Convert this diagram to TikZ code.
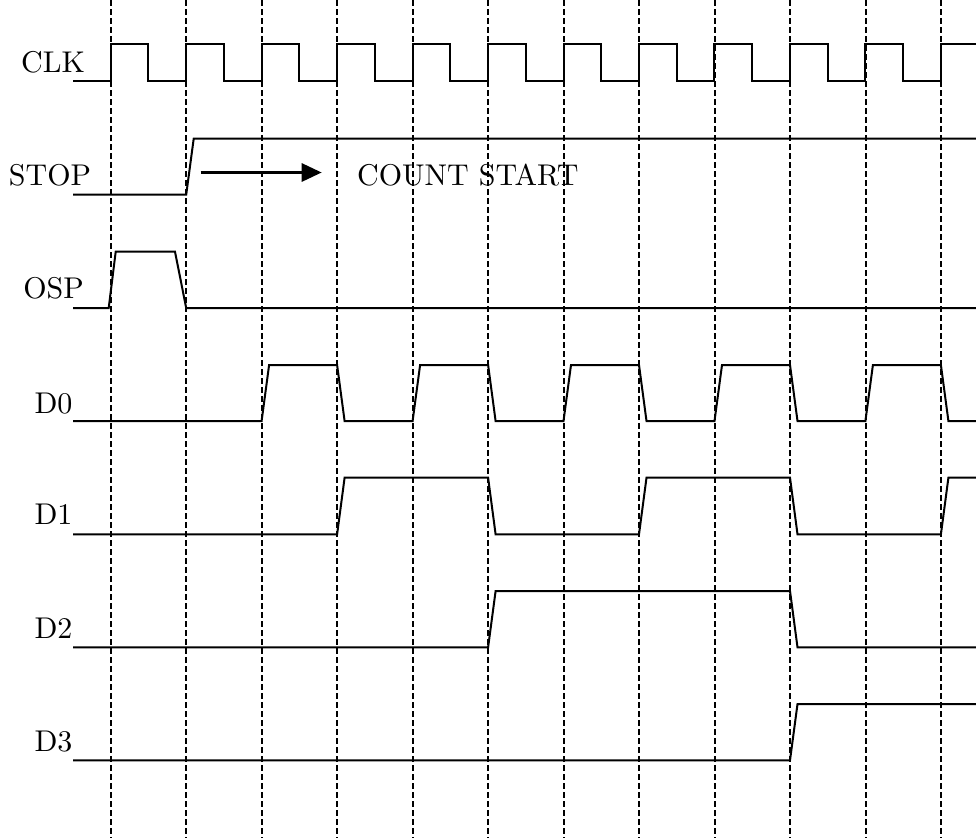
\documentclass[tikz,border=0pt]{standalone}
\usepackage{fontspec}
\newfontfamily\lmten{lmroman10-regular}[Extension=.otf]
\usetikzlibrary{arrows.meta}
\tikzset{
  sig/.style={line width=2pt, line join=miter},
  gridline/.style={line width=2pt, dash pattern=on 6pt off 3pt},
  lbl/.style={anchor=base, inner sep=0pt, font=\lmten\fontsize{30}{36}\selectfont},
  bigarrow/.style={line width=3pt, -{Triangle[length=20pt,width=18pt]}}
}
\begin{document}
\begin{tikzpicture}[x=1pt,y=-1pt]
\useasboundingbox (0,0) rectangle (976,838);
% dashed time grid
\foreach \gx in {111,186,262,337,413,488,564,639,715,790,866,941}
  \draw[gridline] (\gx,0) -- (\gx,838);
% labels
\node[lbl] (lclk) at (53,72) {CLK};
\node[lbl] (lstop) at (50,185.7) {STOP};
\node[lbl] (losp) at (53.5,298.3) {OSP};
\node[lbl] (ld0) at (53.5,413) {D0};
\node[lbl] (ld1) at (53.5,524) {D1};
\node[lbl] (ld2) at (53.5,638) {D2};
\node[lbl] (ld3) at (53.5,751) {D3};
\node[lbl, anchor=base west] (lcount) at (357,185) {COUNT START};
% CLK
\draw[sig] (73,81) foreach \i in {0,...,10} {
  -- ({110.7+75.47*\i},81) -- ({110.7+75.47*\i},43.7)
  -- ({148.4+75.47*\i},43.7) -- ({148.4+75.47*\i},81) }
  -- (940.9,81) -- (940.9,43.7) -- (976,43.7);
% STOP
\draw[sig] (73,194.7) -- (186.2,194.7) -- (193.7,138.7) -- (976,138.7);
\coordinate (arrS) at (200.7,172.5);
\coordinate (arrE) at (321.7,172.5);
\draw[bigarrow] (arrS) -- (arrE);
% OSP
\draw[sig] (73,308) -- (108.7,308) -- (115.7,251.7) -- (175,251.7) -- (186.2,308) -- (976,308);
% D0
\draw[sig] (73,421) -- (261.6,421) -- (269.1,365) -- (337.1,365) -- (344.6,421)
  -- (412.6,421) -- (420.1,365) -- (488.1,365) -- (495.6,421)
  -- (563.5,421) -- (571.0,365) -- (639.0,365) -- (646.5,421)
  -- (714.5,421) -- (722.0,365) -- (790.0,365) -- (797.5,421)
  -- (865.4,421) -- (872.9,365) -- (940.9,365) -- (948.4,421) -- (976,421);
% D1
\draw[sig] (73,534.3) -- (337.1,534.3) -- (344.6,477.7) -- (488.1,477.7) -- (495.6,534.3)
  -- (639.0,534.3) -- (646.5,477.7) -- (790.0,477.7) -- (797.5,534.3)
  -- (940.9,534.3) -- (948.4,477.7) -- (976,477.7);
% D2
\draw[sig] (73,647.3) -- (488.1,647.3) -- (495.6,591) -- (790.0,591) -- (797.5,647.3) -- (976,647.3);
% D3
\draw[sig] (73,760.3) -- (790.0,760.3) -- (797.5,704) -- (976,704);
\end{tikzpicture}
\end{document}
